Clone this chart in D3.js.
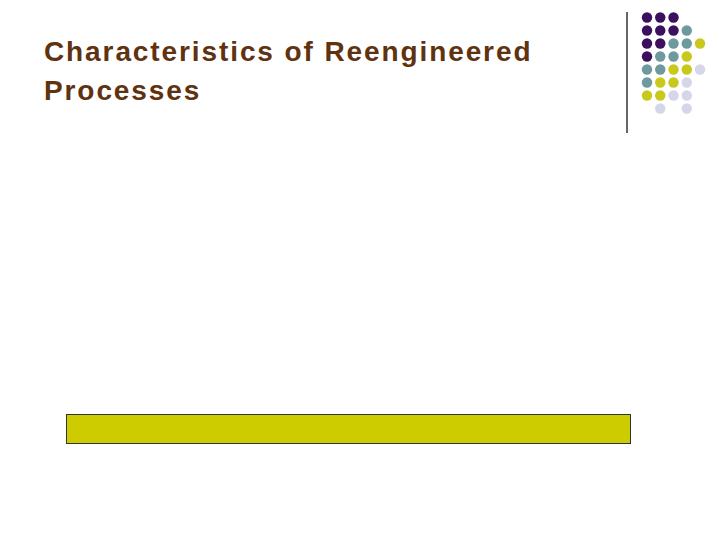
<!DOCTYPE html>
<html><head><meta charset="utf-8">
<script src="https://cdn.jsdelivr.net/npm/d3@7"></script>
<style>body{margin:0;background:#fff}</style>
</head><body>
<script>
// dot pattern rows (P purple, T teal, Y yellow, L lavender, . empty)
const dotRows = ["PPP..", "PPPT.", "PPTTY", "PTTY.", "TTYYL", "TYYL.", "YYLL.", ".L.L."];
const dotColors = { P: "#3c0f5f", T: "#6e9a9e", Y: "#c9c81c", L: "#d6d6ea" };
const titleLines = ["Characteristics of Reengineered", "Processes"];

const svg = d3.select("body").append("svg").attr("width", 720).attr("height", 540);

const x = d3.scaleLinear().domain([0, 4]).range([647, 700]);
const y = d3.scaleLinear().domain([0, 7]).range([17.5, 108.5]);

const cells = dotRows.flatMap((row, r) => [...row].map((c, i) => ({ r, i, c }))).filter(d => d.c !== ".");
svg.selectAll("circle").data(cells).join("circle")
  .attr("cx", d => x(d.i)).attr("cy", d => y(d.r)).attr("r", 5.2)
  .attr("fill", d => dotColors[d.c]);

svg.append("line").attr("x1", 627).attr("x2", 627).attr("y1", 12).attr("y2", 133)
  .attr("stroke", "#000").attr("stroke-width", 1.2);

svg.selectAll("text.title").data(titleLines).join("text").attr("class", "title")
  .attr("x", 44).attr("y", (d, i) => 61 + i * 39)
  .attr("font-family", "Liberation Sans, Arial, sans-serif").attr("font-weight", "bold")
  .attr("font-size", 28).attr("letter-spacing", 1.9).attr("fill", "#5f3210").text(d => d);

svg.append("rect").attr("x", 66.5).attr("y", 414.5).attr("width", 564).attr("height", 29)
  .attr("fill", "#cccc00").attr("stroke", "#333").attr("stroke-width", 1);
</script>
</body></html>
